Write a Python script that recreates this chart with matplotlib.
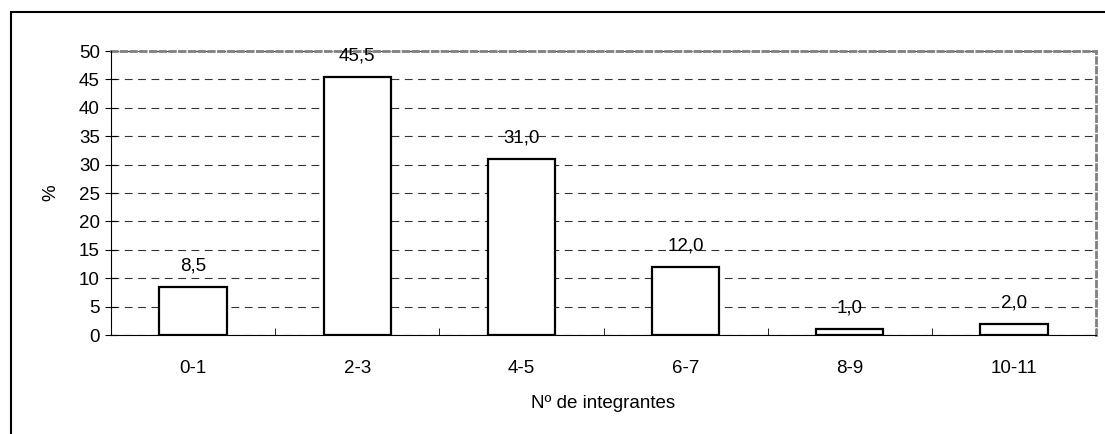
import matplotlib.pyplot as plt
from matplotlib.patches import Rectangle

plt.rcParams['font.family'] = ['Liberation Sans', 'DejaVu Sans']
plt.rcParams['font.size'] = 13.5

categorias = ['0-1', '2-3', '4-5', '6-7', '8-9', '10-11']
porcentajes = [8.5, 45.5, 31.0, 12.0, 1.0, 2.0]
etiquetas = ['8,5', '45,5', '31,0', '12,0', '1,0', '2,0']

fig = plt.figure(figsize=(11.05, 4.34), dpi=100)
# marco exterior del grafico
fig.patches.append(Rectangle((11 / 1105, -0.1), 1.2, 1 - 12 / 434 + 0.1,
                             transform=fig.transFigure, fill=False,
                             edgecolor='black', lw=1.5))
ax = fig.add_axes([111 / 1105, 1 - 335 / 434, 985 / 1105, 284 / 434])

x = list(range(len(categorias)))
ax.bar(x, porcentajes, width=0.41, color='white', edgecolor='black', lw=1.6, zorder=3)

for xi, v, t in zip(x, porcentajes, etiquetas):
    ax.annotate(t, (xi, v), xytext=(0, 9), textcoords='offset points',
                ha='center', va='bottom', zorder=4)

ax.set_xlim(-0.5, len(categorias) - 0.5)
ax.set_ylim(0, 50)
ax.set_yticks(range(0, 51, 5))
ax.set_xticks(x)
ax.set_xticklabels(categorias)
ax.set_xticks([i + 0.5 for i in x], minor=True)
ax.tick_params(axis='x', which='major', length=0, pad=18)
ax.tick_params(axis='x', which='minor', direction='in', length=5, color='black')
ax.tick_params(axis='y', direction='inout', length=8, pad=4)

ax.yaxis.grid(True, color='#333333', lw=0.8, linestyle=(0, (7, 5)), zorder=0)
for s in ['top', 'right']:
    ax.spines[s].set_color('#808080')
    ax.spines[s].set_lw(2)
    ax.spines[s].set_linestyle((0, (2, 1.5)))
ax.spines['left'].set_color('black')
ax.spines['bottom'].set_color('black')
ax.spines['left'].set_zorder(5)
ax.spines['bottom'].set_zorder(5)

ax.set_ylabel('%', labelpad=14)
ax.set_xlabel('Nº de integrantes', labelpad=13)

plt.savefig('out.png', dpi=100)
